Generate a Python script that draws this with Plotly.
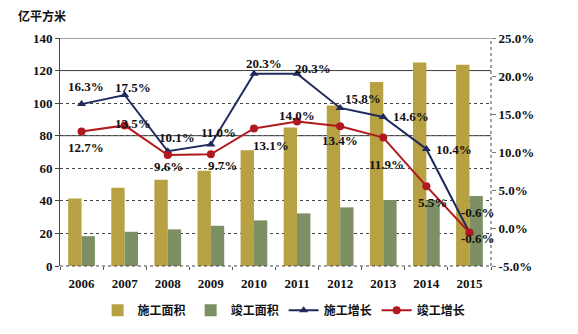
import plotly.graph_objects as go

years = ["2006", "2007", "2008", "2009", "2010", "2011", "2012", "2013", "2014", "2015"]
construction_area = [41.5, 48, 53, 58.5, 71, 85, 98.5, 113, 125, 123.5]
completed_area = [18.3, 21, 22.5, 24.7, 28, 32.3, 36, 40.5, 40, 43]
construction_growth = [16.3, 17.5, 10.1, 11.0, 20.3, 20.3, 15.8, 14.6, 10.4, -0.6]
completed_growth = [12.7, 13.5, 9.6, 9.7, 13.1, 14.0, 13.4, 11.9, 5.5, -0.6]

left_ticks = [0, 20, 40, 60, 80, 100, 120, 140]
right_ticks = [-5, 0, 5, 10, 15, 20, 25]
solid_grid = [80, 120]

xpos = list(range(len(years)))

# label offsets (pixels) - style only
navy_dx = [4, 8, 9, 8, 10, 16, 23, 28, 28, 9]
navy_dy = [-18, -8, -14, -12, -10, -5, -9, -1, 1, -20]
red_dx = [4, 8, 1, 12, 17, 0, 0, 3, 6, 9]
red_dy = [16, -2, 11, 11, 17, -6, 14, 27, 16, 6]

FONT = "Liberation Serif, Times New Roman, Noto Sans CJK SC, serif"
GOLD = "#B7A143"
GREEN = "#7D9063"
NAVY = "#1E2A5E"
RED = "#B0191E"
GRID = "#444"

fig = go.Figure()
fig.add_trace(go.Bar(x=xpos, y=construction_area, name="<b>施工面积</b>",
                     marker=dict(color=GOLD, line=dict(width=0)), yaxis="y"))
fig.add_trace(go.Bar(x=xpos, y=completed_area, name="<b>竣工面积</b>",
                     marker=dict(color=GREEN, line=dict(width=0)), yaxis="y"))
fig.add_trace(go.Scatter(x=xpos, y=construction_growth, name="<b>施工增长</b>", yaxis="y2",
                         mode="lines+markers", line=dict(color=NAVY, width=2),
                         marker=dict(symbol="triangle-up", size=8, color=NAVY)))
fig.add_trace(go.Scatter(x=xpos, y=completed_growth, name="<b>竣工增长</b>", yaxis="y2",
                         mode="lines+markers", line=dict(color=RED, width=2),
                         marker=dict(symbol="circle", size=8, color=RED)))

annotations = []
for i in xpos:
    annotations.append(dict(x=i, y=construction_growth[i], xref="x", yref="y2",
                            text=f"<b>{construction_growth[i]:.1f}%</b>", showarrow=False,
                            xshift=navy_dx[i], yshift=-navy_dy[i],
                            font=dict(family=FONT, size=13, color="#111")))
    annotations.append(dict(x=i, y=completed_growth[i], xref="x", yref="y2",
                            text=f"<b>{completed_growth[i]:.1f}%</b>", showarrow=False,
                            xshift=red_dx[i], yshift=-red_dy[i],
                            font=dict(family=FONT, size=13, color="#111")))
annotations.append(dict(x=(16 - 60) / 431, y=(266 - 15) / 228, xref="paper", yref="paper",
                        xanchor="left", yanchor="middle",
                        text="<b>亿平方米</b>", showarrow=False,
                        font=dict(family="Noto Sans CJK SC", size=12, color="#111")))

fig.update_layout(
    width=578, height=334,
    margin=dict(l=60, r=87, t=38, b=68, autoexpand=False),
    paper_bgcolor="white", plot_bgcolor="white",
    barmode="group", bargap=0.38, bargroupgap=0.0,
    font=dict(family=FONT, size=13, color="#111"),
    showlegend=True,
    legend=dict(orientation="h", x=0.52, xanchor="center", y=-0.13, yanchor="top",
                font=dict(family="Noto Sans CJK SC", size=12, color="#111"),
                itemwidth=30, tracegroupgap=0),
    xaxis=dict(range=[-0.5, len(years) - 0.5], tickvals=xpos,
               ticktext=[f"<b>{y}</b>" for y in years], ticks="",
               showgrid=False, showline=False, ticklabelstandoff=8,
               minor=dict(tickvals=[i - 0.5 for i in xpos] + [len(years) - 0.5],
                          ticks="outside", ticklen=3, tickcolor="#555", showgrid=False),
               tickfont=dict(family=FONT, size=13, color="#111"), zeroline=False),
    yaxis=dict(range=[0, 140], tickvals=left_ticks, ticktext=[f"<b>{v}</b>" for v in left_ticks],
               showgrid=True, gridcolor=GRID, griddash="dot", gridwidth=1,
               showline=True, linecolor=GRID, linewidth=1, mirror=False,
               ticks="outside", ticklen=4, tickcolor=GRID, zeroline=False,
               tickfont=dict(family=FONT, size=13, color="#111")),
    yaxis2=dict(range=[-5, 25], overlaying="y", side="right", tickvals=right_ticks,
                ticktext=[f"<b>{v:.1f}%</b>" for v in right_ticks], showgrid=False,
                showline=False, ticks="outside", ticklen=4,
                tickcolor="#777", zeroline=False,
                tickfont=dict(family=FONT, size=13, color="#111")),
    annotations=annotations,
)
# top border and solid gridlines
for v in solid_grid + [left_ticks[-1]]:
    fig.add_shape(type="line", xref="paper", yref="y", x0=0, x1=1, y0=v, y1=v,
                  line=dict(color=GRID, width=1), layer="below")
# dotted bottom and right borders
fig.add_shape(type="line", xref="paper", yref="paper", x0=0, x1=1, y0=0, y1=0,
              line=dict(color=GRID, width=1, dash="dot"))
fig.add_shape(type="line", xref="paper", yref="paper", x0=1, x1=1, y0=0, y1=1,
              line=dict(color=GRID, width=1, dash="dot"))

fig.write_html("out.html")
